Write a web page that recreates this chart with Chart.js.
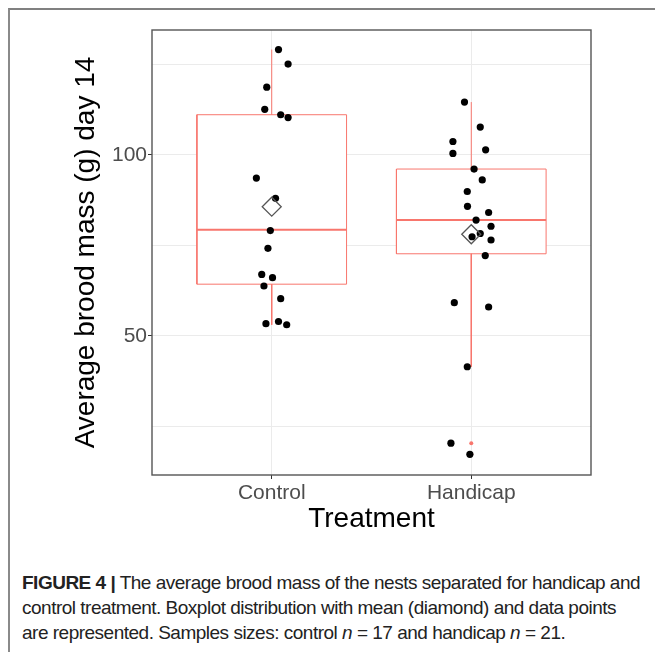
<title>Average brood mass by treatment</title>
<script src="https://cdn.jsdelivr.net/npm/chart.js@4.4.0/dist/chart.umd.min.js"></script>
<style>
  body { margin: 0; background: #fff; }
  #frame { position: absolute; left: 8px; top: 8px; right: 0; bottom: 0; border-top: 2px solid #808080; border-left: 2px solid #8a8a8a; }
  #chart { position: absolute; left: 0; top: 0; }
  #caption { position: absolute; left: 22px; top: 570px; white-space: nowrap; font-family: "Liberation Sans", Arial, sans-serif; font-size: 19px; line-height: 25px; color: #222; letter-spacing: -0.5px; }
  #caption b { font-weight: bold; }
</style>
<div id="frame"></div>
<canvas id="chart" width="655" height="545"></canvas>
<div id="caption"><b>FIGURE 4 |</b> The average brood mass of the nests separated for handicap and<br>control treatment. Boxplot distribution with mean (diamond) and data points<br>are represented. Samples sizes: control <i>n</i> = 17 and handicap <i>n</i> = 21.</div>
<script>
// groups on the x axis
var categories = ['Control', 'Handicap'];

// individual nests (g) and their horizontal jitter (in category units)
var controlMass   = [129.1, 125.1, 118.7, 112.6, 111.1, 110.3, 93.6, 88.0, 79.1, 74.2, 67.0, 66.1, 63.8, 60.3, 53.4, 54.0, 53.1];
var controlJitter = [0.034, 0.082, -0.025, -0.035, 0.045, 0.082, -0.077, 0.019, -0.007, -0.019, -0.050, 0.004, -0.039, 0.045, -0.029, 0.034, 0.075];
var handicapMass   = [114.6, 107.7, 103.7, 101.4, 100.4, 96.1, 93.1, 89.9, 85.8, 84.1, 82.0, 80.3, 78.3, 77.4, 76.5, 72.2, 59.2, 58.0, 41.5, 20.4, 17.3];
var handicapJitter = [-0.034, 0.045, -0.092, 0.072, -0.092, 0.014, 0.055, -0.020, -0.019, 0.087, 0.024, 0.099, 0.045, 0.004, 0.099, 0.070, -0.085, 0.087, -0.020, -0.102, -0.007];

// boxplot summaries, one value per category
var q1       = [64.3, 72.7];
var median   = [79.3, 82.0];
var q3       = [111.1, 96.1];
var whiskLo  = [53.1, 41.5];
var whiskHi  = [129.1, 114.6];
var means    = [85.7, 78.1];
var handicapOutliers = [20.4, 17.3];

// y axis
var yGrid   = [25, 50, 75, 100, 125];
var yLabels = [50, 100];

var boxRed = '#F8766D';
var half = 0.375;

function jittered(vals, jit, c) {
  return vals.map(function (v, i) { return {x: c + jit[i], y: v}; });
}

var datasets = [];
// boxes (white fill hides the grid like ggplot)
categories.forEach(function (name, i) {
  var c = i + 1;
  datasets.push({
    label: name + ' box', order: 6, showLine: true, pointRadius: 0,
    borderColor: boxRed, borderWidth: 1, backgroundColor: '#fff', fill: 'shape',
    data: [{x: c - half, y: q1[i]}, {x: c + half, y: q1[i]}, {x: c + half, y: q3[i]}, {x: c - half, y: q3[i]}, {x: c - half, y: q1[i]}]
  });
});
var medData = [], whiskData = [];
categories.forEach(function (name, i) {
  var c = i + 1;
  medData.push({x: c - half, y: median[i]}, {x: c + half, y: median[i]}, {x: c, y: null});
  whiskData.push({x: c, y: q3[i]}, {x: c, y: whiskHi[i]}, {x: c, y: null}, {x: c, y: q1[i]}, {x: c, y: whiskLo[i]}, {x: c, y: null});
});
datasets.push({label: 'median', order: 5, showLine: true, pointRadius: 0, borderColor: boxRed, borderWidth: 2, data: medData});
datasets.push({label: 'whiskers', order: 5, showLine: true, pointRadius: 0, borderColor: boxRed, borderWidth: 1, data: whiskData});
datasets.push({label: 'outliers', order: 4, pointRadius: 2, backgroundColor: boxRed, borderWidth: 0,
  data: handicapOutliers.map(function (v) { return {x: 2, y: v}; })});
datasets.push({label: 'Control', order: 3, pointRadius: 3.6, backgroundColor: '#000', borderWidth: 0,
  data: jittered(controlMass, controlJitter, 1)});
datasets.push({label: 'Handicap', order: 3, pointRadius: 3.6, backgroundColor: '#000', borderWidth: 0,
  data: jittered(handicapMass, handicapJitter, 2)});
datasets.push({label: 'mean', order: 1, pointStyle: 'rectRot', pointRadius: 9.5, borderColor: '#555', borderWidth: 1.3,
  backgroundColor: 'rgba(0,0,0,0)', data: means.map(function (m, i) { return {x: i + 1, y: m}; })});

var panelBorder = {
  id: 'panelBorder',
  afterDraw: function (chart) {
    var a = chart.chartArea, ctx = chart.ctx;
    ctx.save();
    ctx.strokeStyle = '#555';
    ctx.lineWidth = 1.4;
    ctx.strokeRect(a.left, a.top, a.right - a.left, a.bottom - a.top);
    ctx.restore();
  }
};

new Chart(document.getElementById('chart'), {
  type: 'scatter',
  data: {datasets: datasets},
  plugins: [panelBorder],
  options: {
    responsive: false,
    animation: false,
    events: [],
    layout: {padding: {top: 30, right: 64, left: 0, bottom: 0}},
    plugins: {legend: {display: false}, tooltip: {enabled: false}},
    scales: {
      x: {
        type: 'linear', min: 0.4, max: 2.6,
        afterBuildTicks: function (axis) { axis.ticks = categories.map(function (c, i) { return {value: i + 1}; }); },
        afterFit: function (axis) { axis.height = 70; },
        ticks: {
          font: {family: 'Liberation Sans', size: 21}, color: '#4d4d4d', padding: 2, maxRotation: 0,
          callback: function (v) { return categories[v - 1]; }
        },
        grid: {color: '#ebebeb', lineWidth: 1, tickLength: 4, tickColor: '#333'},
        border: {display: false},
        title: {display: true, text: 'Treatment', color: '#000', font: {family: 'Liberation Sans', size: 28}, padding: {top: 0, bottom: 9}}
      },
      y: {
        type: 'linear', min: 11.6, max: 134.5,
        afterBuildTicks: function (axis) { axis.ticks = yGrid.map(function (v) { return {value: v}; }); },
        afterFit: function (axis) { axis.width = 152; },
        ticks: {
          font: {family: 'Liberation Sans', size: 21}, color: '#4d4d4d', padding: 1,
          callback: function (v) { return yLabels.indexOf(v) >= 0 ? String(v) : ''; }
        },
        grid: {
          color: '#ebebeb', lineWidth: 1, tickLength: 4,
          tickColor: function (ctx) { return ctx.tick && yLabels.indexOf(ctx.tick.value) >= 0 ? '#333' : 'rgba(0,0,0,0)'; }
        },
        border: {display: false},
        title: {display: true, text: 'Average brood mass (g) day 14', color: '#000', font: {family: 'Liberation Sans', size: 28}, padding: {top: 69, bottom: 0}}
      }
    }
  }
});
</script>
